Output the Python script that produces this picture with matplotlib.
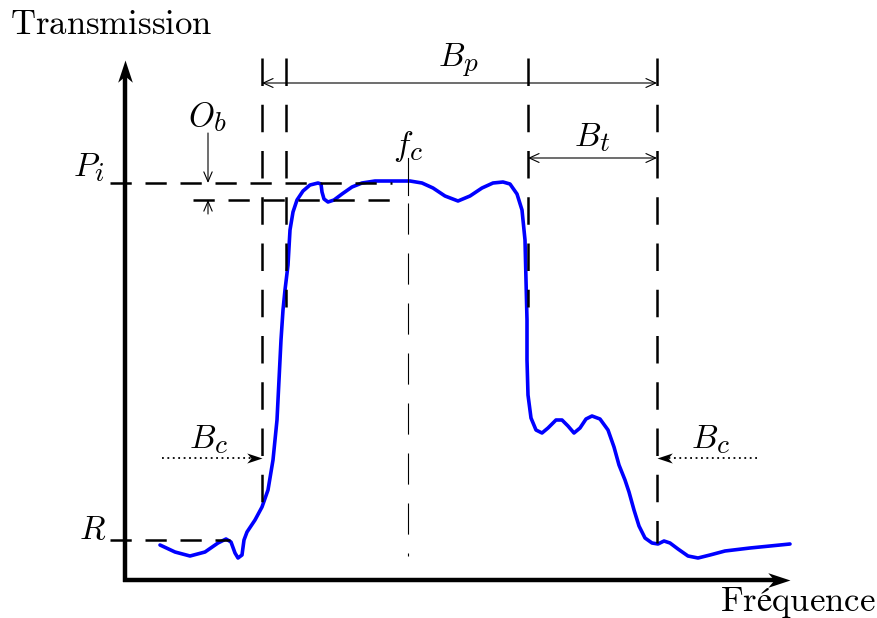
import matplotlib
matplotlib.use("Agg")
import matplotlib.pyplot as plt
import matplotlib._mathtext as mathtext_internals
from matplotlib.path import Path

plt.rcParams["mathtext.fontset"] = "cm"
# larger subscripts, closer to scriptsize TeX labels
mathtext_internals.SHRINK_FACTOR = 0.82

# Transmission curve of the filter (frequency, transmission), origin at the axes corner
freq = [35, 50, 65, 80, 93, 101, 106, 110, 113, 117, 119, 122, 130, 137, 143, 148,
        152, 154, 156, 158, 160, 163, 165, 168, 172, 178, 185, 193, 196, 197, 199,
        203, 209, 217, 227, 237, 250, 270, 285, 297, 308, 320, 333, 345, 357, 368,
        378, 385, 392, 397, 400, 401, 402, 402, 403, 406, 411, 417, 423, 431, 437,
        443, 449, 455, 461, 467, 475, 483, 489, 494, 500, 504, 509, 514, 520, 527,
        533, 539, 545, 553, 563, 573, 585, 600, 625, 665]
trans = [35, 28, 24, 28, 37, 41, 38, 27, 22, 25, 40, 48, 60, 73, 90, 120,
         160, 200, 240, 270, 290, 315, 350, 368, 380, 389, 395, 397, 396, 388, 381,
         378, 380, 386, 393, 397, 399, 399, 399, 397, 392, 384, 379, 384, 392, 397,
         398, 396, 386, 370, 340, 300, 260, 220, 185, 162, 150, 147, 152, 160, 160,
         154, 147, 152, 161, 164, 161, 150, 133, 115, 100, 88, 70, 54, 42, 37,
         36, 39, 37, 31, 24, 22, 25, 29, 32, 36]

# Characteristic frequencies (vertical markers) and where they stop
f_stop_left, f_pass_left, f_pass_right, f_stop_right = 137, 161, 403, 532
f_center = 283
marker_top = 522
marker_bottoms = [73, 273, 273, 37]

# Characteristic levels
P_i = 397          # insertion level
P_ripple = 380     # bottom of the ripple band
R = 40             # rejection level

x_max, y_max = 665, 520
y_cut = 122        # height of the cut-off arrows

# stealth-like arrow heads, tip at the origin
up_head = Path([(0, 0), (-0.33, -1), (0, -0.72), (0.33, -1), (0, 0)],
               [Path.MOVETO, Path.LINETO, Path.LINETO, Path.LINETO, Path.CLOSEPOLY])
right_head = Path([(0, 0), (-1, 0.33), (-0.72, 0), (-1, -0.33), (0, 0)],
                  [Path.MOVETO, Path.LINETO, Path.LINETO, Path.LINETO, Path.CLOSEPOLY])
left_head = Path([(0, 0), (1, 0.33), (0.72, 0), (1, -0.33), (0, 0)],
                 [Path.MOVETO, Path.LINETO, Path.LINETO, Path.LINETO, Path.CLOSEPOLY])

fig = plt.figure(figsize=(8.78, 6.18), dpi=100)
ax = fig.add_axes([0, 0, 1, 1])
ax.set_xlim(-125, 753)
ax.set_ylim(-38, 580)
ax.axis("off")

# axes with arrows
ax.plot([0, 0], [-2, y_max - 12], color="k", lw=3.2, solid_capstyle="butt")
ax.plot([-2, x_max - 12], [0, 0], color="k", lw=3.2, solid_capstyle="butt")
ax.plot([0], [y_max], marker=up_head, ms=32, color="k", mew=0)
ax.plot([x_max], [0], marker=right_head, ms=32, color="k", mew=0)
ax.text(-115, 556, r"$\mathrm{Transmission}$", fontsize=25, ha="left", va="center")
ax.text(751, -22, r"$\mathrm{Fréquence}$", fontsize=25, ha="right", va="center")

# the filter response
ax.plot(freq, trans, color=(0, 0, 1), lw=2.6, solid_joinstyle="round",
        solid_capstyle="round", zorder=2)

# vertical dashed markers
thick_dash = (0, (11, 7.5))
for fx, yb in zip([f_stop_left, f_pass_left, f_pass_right, f_stop_right], marker_bottoms):
    ax.plot([fx, fx], [marker_top, yb], color="k", lw=1.8, linestyle=thick_dash,
            dash_capstyle="butt", zorder=3)

# horizontal dashed levels
level_dash = (0, (8.5, 5.5))
ax.plot([-15, 267], [P_i, P_i], color="k", lw=1.8, linestyle=level_dash,
        dash_capstyle="butt", zorder=3)
ax.plot([68, 267], [P_ripple, P_ripple], color="k", lw=1.8, linestyle=level_dash,
        dash_capstyle="butt", zorder=3)
ax.plot([-15, 105], [R, R], color="k", lw=1.8, linestyle=level_dash,
        dash_capstyle="butt", zorder=3)

# centre frequency
ax.plot([f_center, f_center], [422, 385], color="k", lw=0.8, zorder=3)
ax.plot([f_center, f_center], [377, 24], color="k", lw=0.8, linestyle=(0, (28, 17)),
        dash_capstyle="butt")

# bandwidth arrows
thin = dict(arrowstyle="<->,head_length=0.35,head_width=0.16", lw=0.8, color="k",
            shrinkA=0, shrinkB=0, mutation_scale=20)
ax.annotate("", xy=(f_stop_left, 497), xytext=(f_stop_right, 497), arrowprops=thin)
ax.annotate("", xy=(f_pass_right, 422), xytext=(f_stop_right, 422), arrowprops=thin)
ax.text(333, 520, r"$B_p$", fontsize=24, ha="center", va="center")
ax.text(467, 442, r"$B_t$", fontsize=24, ha="center", va="center")

# ripple (O_b)
small = dict(arrowstyle="->,head_length=0.35,head_width=0.15", lw=0.8, color="k",
             shrinkA=0, shrinkB=0, mutation_scale=20)
ax.annotate("", xy=(83, P_i), xytext=(83, 447), arrowprops=small)
ax.annotate("", xy=(83, P_ripple), xytext=(83, 366), arrowprops=small)
ax.text(82, 463, r"$O_b$", fontsize=24, ha="center", va="center")

# level labels
ax.text(-20, 412, r"$P_i$", fontsize=24, ha="right", va="center")
ax.text(-19, 51, r"$R$", fontsize=24, ha="right", va="center")
ax.text(f_center, 434, r"$f_c$", fontsize=24, ha="center", va="center")

# cut-off arrows (dotted)
ax.plot([37, f_stop_left - 10], [y_cut, y_cut], color="k", lw=1.3, linestyle=(0, (1, 2)))
ax.plot([f_stop_left], [y_cut], marker=right_head, ms=22, color="k", mew=0)
ax.plot([632, f_stop_right + 10], [y_cut, y_cut], color="k", lw=1.3, linestyle=(0, (1, 2)))
ax.plot([f_stop_right], [y_cut], marker=left_head, ms=22, color="k", mew=0)
ax.text(84, 140, r"$B_c$", fontsize=24, ha="center", va="center")
ax.text(586, 140, r"$B_c$", fontsize=24, ha="center", va="center")

fig.savefig("out.png", dpi=100)
